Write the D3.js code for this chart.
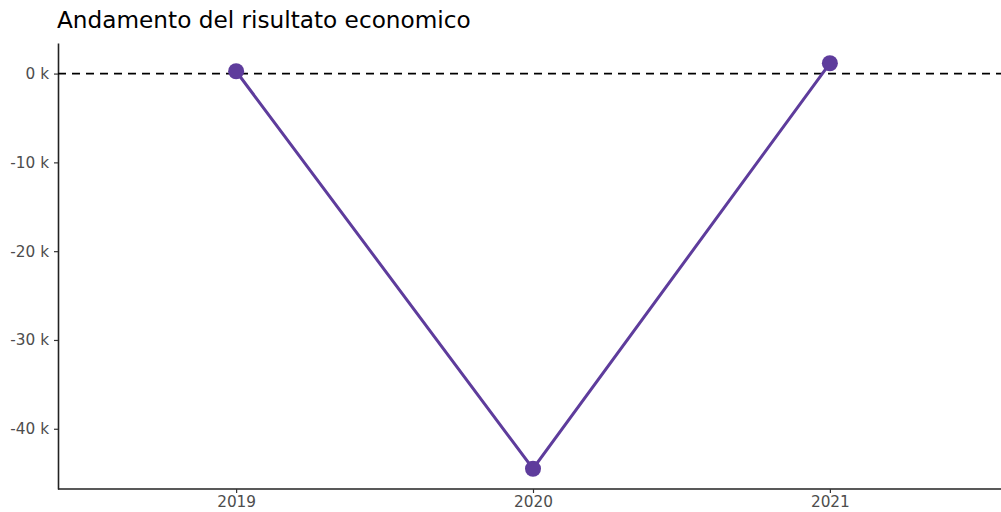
<!DOCTYPE html>
<html>
<head>
<meta charset="utf-8">
<script src="https://cdn.jsdelivr.net/npm/d3@7"></script>
<style>
  body { margin: 0; background: #fff; }
  text { font-family: "DejaVu Sans", sans-serif; }
</style>
</head>
<body>
<script>
const years = ["2019", "2020", "2021"]
const risultato = [260, -44500, 1160]
const yTicks = [0, -10000, -20000, -30000, -40000]

const w = 1001 // svg width
const h = 512 // svg height
const pLeft = 58 // panel left edge
const pRight = 1008 // panel right edge (cut off by the window)
const pTop = 43 // panel top
const pBottom = 489 // panel bottom
const col = "#5e3c9c"

const svg = d3.select("body")
              .append("svg")
              .attr("width", w)
              .attr("height", h)

// title
svg.append("text")
   .attr("x", pLeft - 1)
   .attr("y", 28)
   .attr("fill", "#000")
   .style("font-size", "23.2px")
   .text("Andamento del risultato economico")

// scales, with ggplot style expansion
const lo = d3.min(risultato), hi = d3.max(risultato)
const pad = (hi - lo) * 0.05
const y = d3.scaleLinear()
            .domain([lo - pad, hi + pad])
            .range([pBottom, pTop])

const x = d3.scalePoint()
            .domain(years)
            .range([pLeft, pRight])
            .padding(0.6)

// y axis
const yAxis = svg.append("g")
   .attr("transform", `translate(${pLeft},0)`)
   .call(d3.axisLeft(y).tickValues(yTicks).tickSize(4).tickSizeOuter(0).tickPadding(5))
yAxis.select(".domain").attr("stroke", "#222").attr("stroke-width", 1.6)
yAxis.selectAll(".tick line").attr("stroke", "#333").attr("stroke-width", 1.2)
yAxis.selectAll(".tick text").attr("fill", "#4d4d4d").style("font-size", "15.3px")
     .text(d => (d === 0 ? "0" : "-" + Math.abs(d / 1000)) + " k")

// x axis
const xAxis = svg.append("g")
   .attr("transform", `translate(0,${pBottom})`)
   .call(d3.axisBottom(x).tickSize(4).tickSizeOuter(0).tickPadding(3))
xAxis.select(".domain").attr("stroke", "#222").attr("stroke-width", 1.6)
     .attr("d", `M${pLeft},0H${pRight}`)
xAxis.selectAll(".tick line").attr("stroke", "#333").attr("stroke-width", 1.2)
xAxis.selectAll(".tick text").attr("fill", "#4d4d4d").style("font-size", "15.3px")

// zero reference line
svg.append("line")
   .attr("x1", pLeft)
   .attr("x2", pRight)
   .attr("y1", y(0))
   .attr("y2", y(0))
   .attr("stroke", "#000")
   .attr("stroke-width", 1.8)
   .attr("stroke-dasharray", "8,6")

// line
const line = d3.line()
               .x((d, i) => x(years[i]))
               .y(d => y(d))

svg.append("path")
   .datum(risultato)
   .attr("fill", "none")
   .attr("stroke", col)
   .attr("stroke-width", 3)
   .attr("d", line)

// points
svg.selectAll("circle")
   .data(risultato)
   .enter()
   .append("circle")
   .attr("cx", (d, i) => x(years[i]))
   .attr("cy", d => y(d))
   .attr("r", 8)
   .attr("fill", col)
</script>
</body>
</html>
